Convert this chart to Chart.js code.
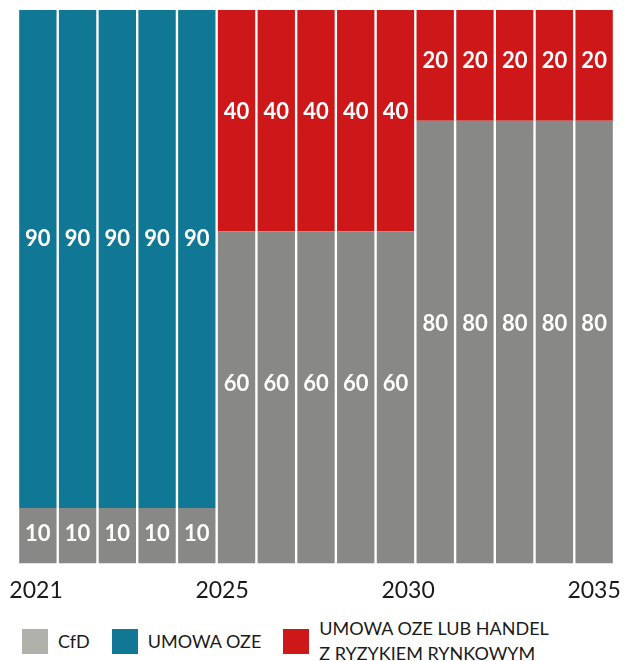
<!DOCTYPE html>
<html>
<head>
<meta charset="utf-8">
<script src="https://cdn.jsdelivr.net/npm/chart.js@4/dist/chart.umd.min.js"></script>
<style>
    body { margin: 0; background: #fff; font-family: Lato, sans-serif; }
    #wrap { position: relative; width: 624px; height: 609px; }
    #legend { position: absolute; left: 22px; top: 616px; display: flex; align-items: center; color: #1a1a1a; font-size: 18px; }
    .item { display: flex; align-items: center; margin-right: 22px; }
    .swatch { width: 26px; height: 25px; margin-right: 10px; }
    .item span { line-height: 25px; }
</style>
</head>
<body>
<div id="wrap"><canvas id="chart"></canvas></div>
<div id="legend"></div>
<script>
// share of each contract type per year, %
const years = ['2021', '2022', '2023', '2024', '2025', '2026', '2027', '2028',
    '2029', '2030', '2031', '2032', '2033', '2034', '2035'];
const cfd = [10, 10, 10, 10, 10, 60, 60, 60, 60, 60, 80, 80, 80, 80, 80];
const umowaOze = [90, 90, 90, 90, 90, 0, 0, 0, 0, 0, 0, 0, 0, 0, 0];
const ryzyko = [0, 0, 0, 0, 0, 40, 40, 40, 40, 40, 20, 20, 20, 20, 20];
const tickLabels = ['2021', '2025', '2030', '2035'];

const seriesNames = ['CfD', 'UMOWA OZE', ['UMOWA OZE LUB HANDEL', 'Z RYZYKIEM RYNKOWYM']];
const barColors = ['#888886', '#107894', '#cd1719'];
const legendColors = ['#b1b1ab', '#107894', '#cd1719'];

// white numbers a little above the middle of every segment
const valueLabels = {
    id: 'valueLabels',
    afterDatasetsDraw(chart) {
        const ctx = chart.ctx;
        ctx.save();
        ctx.fillStyle = '#fff';
        ctx.font = 'bold 22px Lato';
        ctx.textAlign = 'center';
        ctx.textBaseline = 'middle';
        chart.data.datasets.forEach((ds, i) => {
            chart.getDatasetMeta(i).data.forEach((bar, j) => {
                const v = ds.data[j];
                if (!v) return;
                ctx.fillText(v, bar.x, bar.y + (bar.base - bar.y) * 0.46);
            });
        });
        ctx.restore();
    }
};

const chart = new Chart(document.getElementById('chart'), {
    type: 'bar',
    data: {
        labels: years,
        datasets: [
            { label: 'CfD', data: cfd, backgroundColor: barColors[0] },
            { label: 'UMOWA OZE', data: umowaOze, backgroundColor: barColors[1] },
            { label: 'UMOWA OZE LUB HANDEL Z RYZYKIEM RYNKOWYM', data: ryzyko, backgroundColor: barColors[2] }
        ]
    },
    options: {
        responsive: true,
        maintainAspectRatio: false,
        animation: false,
        layout: { padding: { left: 18, right: 10, top: 10, bottom: 0 } },
        datasets: { bar: { barPercentage: 0.94, categoryPercentage: 1 } },
        plugins: { legend: { display: false }, tooltip: { enabled: false } },
        scales: {
            x: { stacked: true, display: false },
            // evenly spread year labels under the bars
            years: {
                type: 'linear',
                position: 'bottom',
                offset: false,
                min: -0.097,
                max: 3.107,
                afterBuildTicks: (axis) => {
                    axis.ticks = tickLabels.map((_, i) => ({ value: i }));
                },
                afterFit: (axis) => {
                    // labels may hang past the bars, don't shrink the plot for them
                    axis.paddingLeft = 0;
                    axis.paddingRight = 0;
                },
                ticks: {
                    callback: (v) => tickLabels[v],
                    color: '#1a1a1a',
                    font: { family: 'Lato', size: 23 },
                    padding: 5,
                    autoSkip: false,
                    maxRotation: 0
                },
                grid: { display: false },
                border: { display: false }
            },
            y: { stacked: true, min: 0, max: 100, display: false }
        }
    },
    plugins: [valueLabels]
});

const legend = document.getElementById('legend');
seriesNames.forEach((name, i) => {
    const item = document.createElement('div');
    item.className = 'item';
    const sw = document.createElement('div');
    sw.className = 'swatch';
    sw.style.background = legendColors[i];
    const txt = document.createElement('span');
    txt.innerHTML = [].concat(name).join('<br>');
    item.appendChild(sw);
    item.appendChild(txt);
    legend.appendChild(item);
});
</script>
</body>
</html>
